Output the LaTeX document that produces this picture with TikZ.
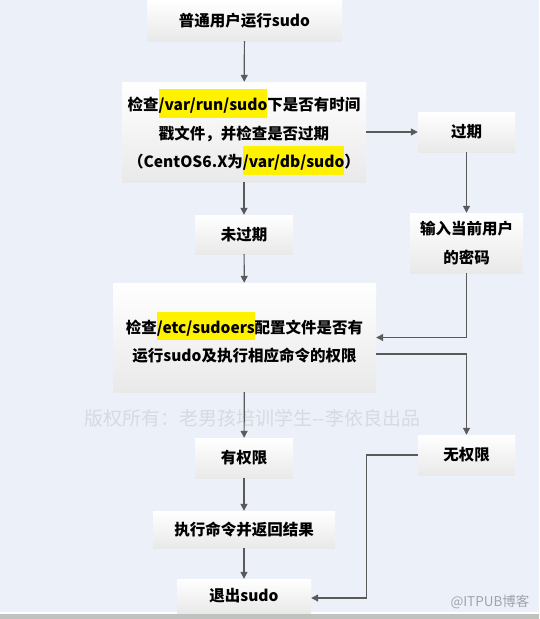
\documentclass[tikz,border=0pt]{standalone}
\usepackage{fontspec}
\setmainfont{Noto Sans CJK SC}
\usetikzlibrary{arrows.meta}
\definecolor{bgc}{RGB}{236,241,249}
\definecolor{boxbot}{RGB}{233,233,233}
\definecolor{arr}{RGB}{90,90,90}
\definecolor{wm}{RGB}{214,218,226}
\definecolor{strip}{RGB}{192,194,191}
\definecolor{itpub}{RGB}{160,164,170}
\newcommand\hlt[1]{{\setlength{\fboxsep}{0pt}\colorbox{yellow}{\rule[-7pt]{0pt}{28.5pt}#1}}}
\begin{document}
\begin{tikzpicture}[x=1pt,y=-1pt,
  flowbox/.style={rectangle, inner sep=0pt, top color=white, bottom color=boxbot,
    align=center, font=\fontsize{15.5}{28.5}\selectfont\bfseries, text=black},
  conn/.style={draw=arr, line width=1.2pt, -{Triangle[width=7pt,length=7pt]}}]
\useasboundingbox (0,0) rectangle (539,619);
\fill[bgc] (0,0) rectangle (539,612);
\fill[white] (0,612) rectangle (539,614);
\fill[strip] (0,614) rectangle (539,619);
\node[font=\fontsize{19}{21}\selectfont, text=wm] (wmk) at (252.5,418) {版权所有：老男孩培训学生-{}-李依良出品};
\node[flowbox, minimum width=195pt, minimum height=41pt] (n1) at (244.5,20.5) {普通用户运行sudo};
\node[flowbox, minimum width=244pt, minimum height=100pt] (n2) at (244,132)
  {检查\hlt{/var/run/sudo}下是否有时间\\戳文件，并检查是否过期\\（CentOS6.X为\hlt{/var/db/sudo}）};
\node[flowbox, minimum width=97pt, minimum height=40pt] (n3) at (466.5,132) {过期};
\node[flowbox, minimum width=98pt, minimum height=39pt] (n4) at (244,234.5) {未过期};
\node[flowbox, minimum width=113pt, minimum height=60pt] (n5) at (466.5,243) {输入当前用户\\的密码};
\node[flowbox, minimum width=263pt, minimum height=109pt] (n6) at (244.5,337.5)
  {检查\hlt{/etc/sudoers}配置文件是否有\\运行sudo及执行相应命令的权限};
\node[flowbox, minimum width=97pt, minimum height=40pt] (n7) at (466.5,455) {无权限};
\node[flowbox, minimum width=98pt, minimum height=40pt] (n8) at (244,458) {有权限};
\node[flowbox, minimum width=182pt, minimum height=37pt] (n9) at (244,529.5) {执行命令并返回结果};
\node[flowbox, minimum width=134pt, minimum height=34pt] (n10) at (244,596) {退出sudo};
\node[font=\fontsize{13.5}{15}\selectfont, text=itpub] (itp) at (490,602) {@ITPUB博客};
\draw[conn] (n1) -- (n2);
\draw[conn] (n2) -- (n3);
\draw[conn] (n3) -- (n5);
\draw[conn] (n2) -- (n4);
\draw[conn] (n4) -- (n6);
\draw[conn] (n5.south) |- (n6.east);
\draw[conn] ([yshift=-16.5pt]n6.east) -| (n7.north);
\draw[conn] (n7.west) -- ++(-51,0) |- ([yshift=-2pt]n10.east);
\draw[conn] (n6) -- (n8);
\draw[conn] (n8) -- (n9);
\draw[conn] (n9) -- (n10);
\end{tikzpicture}
\end{document}
